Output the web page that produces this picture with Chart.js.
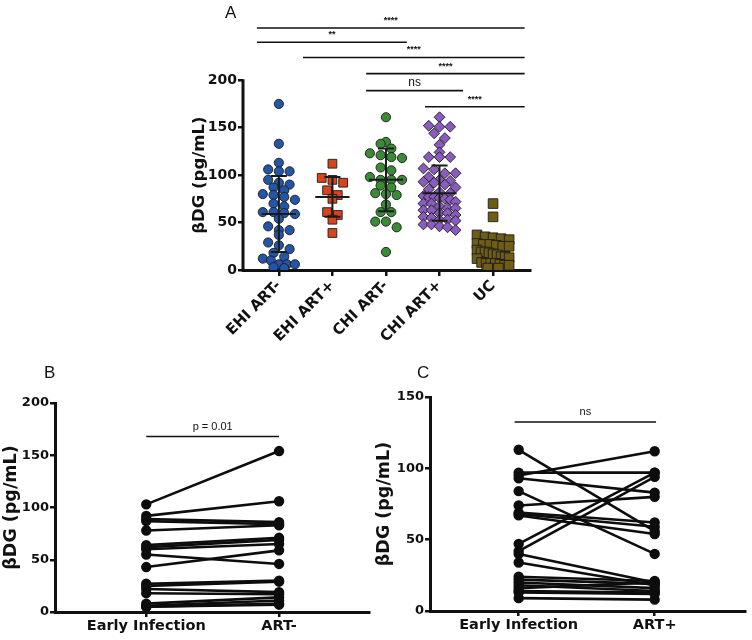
<!DOCTYPE html>
<html>
<head>
<meta charset="utf-8">
<script src="https://cdn.jsdelivr.net/npm/chart.js@4.4.1/dist/chart.umd.min.js"></script>
<style>
  body { margin: 0; background: #fff; }
  #wrap { position: relative; width: 752px; height: 640px; }
  canvas { position: absolute; }
  .lbl { position: absolute; font-family: "Liberation Sans", Arial, sans-serif; font-size: 17px; line-height: 17px; color: #111; }
</style>
</head>
<body>
<div id="wrap">
  <canvas id="cA" width="752" height="372" style="left:0;top:0"></canvas>
  <canvas id="cB" width="376" height="260" style="left:0;top:380px"></canvas>
  <canvas id="cC" width="382" height="260" style="left:370px;top:380px"></canvas>
  <div class="lbl" style="left:225px;top:4px">A</div>
  <div class="lbl" style="left:44px;top:364px">B</div>
  <div class="lbl" style="left:417px;top:364px">C</div>
</div>
<script>
// panel A
const groupsA = ['EHI ART-', 'EHI ART+', 'CHI ART-', 'CHI ART+', 'UC']
const ehiArtNeg = [175, 133, 113, 106, 104, 104, 95, 92, 90, 87, 84, 80, 79, 77, 74, 70, 67, 61, 61, 60, 59, 54, 46, 42, 42, 37, 29, 26, 22, 18, 14, 12, 10, 6, 6, 6, 3, 2]
const ehiArtPos = [112, 97, 95, 92, 84, 79, 75, 61, 58, 53, 39]
const chiArtNeg = [161, 135, 133, 128, 123, 121, 119, 118, 108, 105, 98, 95, 95, 95, 89, 87, 81, 80, 79, 69, 61, 61, 51, 51, 45, 19]
const chiArtPos = [161, 152, 151, 151, 144, 139, 132, 124, 119, 119, 119, 107, 106, 102, 102, 98, 95, 94, 93, 92, 90, 87, 85, 82, 81, 78, 77, 77, 76, 75, 74, 72, 70, 70, 67, 65, 65, 63, 63, 60, 60, 58, 56, 55, 53, 53, 52, 48, 48, 46, 45, 42]
const uc = [70, 56, 37, 35, 34, 33, 32, 28, 27, 27, 26, 25, 25, 21, 19, 19, 18, 17, 16, 14, 14, 13, 12, 8, 7, 7, 7, 6, 5, 5, 2, 2]
const meanA = [59, 77, 95, 81, 20]
const sdA = [40, 21, 33, 29, 14]
const yTicksA = [0, 50, 100, 150, 200]

// significance bars of panel A
const sigFrom = [0.59, 0.59, 1.45, 2.63, 2.63, 3.73]
const sigTo = [5.59, 3.39, 5.59, 5.59, 4.44, 5.59]
const sigY = [255, 240, 224, 207, 189, 172]
const sigText = ['****', '**', '****', '****', 'ns', '****']

// panel B
const labelsB = ['Early Infection', 'ART-']
const bEarly = [103, 92, 89, 87, 78, 64, 62, 60, 55, 43, 27, 25, 22, 18, 8, 6, 5, 5]
const bArt = [154, 106, 86, 84, 83, 71, 69, 65, 46, 59, 30, 29, 19, 17, 14, 11, 8, 7]
const pB = 'p = 0.01'

// panel C
const labelsC = ['Early Infection', 'ART+']
const cEarly = [113, 97, 95, 93, 84, 74, 69, 68, 67, 47, 42, 40, 34, 24, 22, 20, 18, 16, 14, 13, 9]
const cArt = [56, 97, 112, 83, 40, 80, 62, 59, 54, 97, 94, 20, 18, 21, 19, 16, 14, 20, 13, 12, 8]
const pC = 'ns'

const ink = '#111'
const tituloY = 'βDG (pg/mL)'
const boldFont = (s) => ({ family: 'DejaVu Sans', weight: 'bold', size: s })

// spread the points of one group in rows, like a column scatter
function swarm(vals, center, bin, step, maxHalf) {
    const rows = new Map()
    vals.forEach((v, i) => {
        const k = Math.round(v / bin)
        if (!rows.has(k)) rows.set(k, [])
        rows.get(k).push(i)
    })
    const xs = []
    rows.forEach(idx => {
        const n = idx.length
        const st = n > 1 ? Math.min(step, 2 * maxHalf / (n - 1)) : 0
        idx.forEach((i, j) => { xs[i] = center + (j - (n - 1) / 2) * st })
    })
    return vals.map((v, i) => ({ x: xs[i], y: v }))
}

function errBar(i) {
    const c = i + 1, m = meanA[i], s = sdA[i]
    return [
        { x: c - 0.32, y: m }, { x: c + 0.32, y: m }, { x: c, y: null },
        { x: c, y: m - s }, { x: c, y: m + s }, { x: c, y: null },
        { x: c - 0.15, y: m + s }, { x: c + 0.15, y: m + s }, { x: c, y: null },
        { x: c - 0.15, y: m - s }, { x: c + 0.15, y: m - s }
    ]
}

const styleA = [
    { data: ehiArtNeg, bg: '#2456a8', style: 'circle', r: 4.6, bin: 8.5 },
    { data: ehiArtPos, bg: '#d8431e', style: 'rect', r: 6.2, bin: 12 },
    { data: chiArtNeg, bg: '#3a8a36', style: 'circle', r: 4.6, bin: 10 },
    { data: chiArtPos, bg: '#8a5cc0', style: 'rectRot', r: 5.4, bin: 7.5 },
    { data: uc, bg: '#6f5d16', style: 'rect', r: 6.8, bin: 8.5 }
]

function criarA() {
    const ds = []
    groupsA.forEach((g, i) => {
        ds.push({
            data: errBar(i), showLine: true, spanGaps: false, pointRadius: 0,
            borderColor: '#1a1a1a', borderWidth: 2, order: i === 4 ? 10 : 0
        })
    })
    sigY.forEach((y, i) => {
        ds.push({
            data: [{ x: sigFrom[i], y: y }, { x: sigTo[i], y: y }], showLine: true,
            pointRadius: 0, borderColor: ink, borderWidth: 1.6, order: 1
        })
    })
    styleA.forEach((s, i) => {
        ds.push({
            data: swarm(s.data, i + 1, s.bin, 0.2, 0.3),
            pointStyle: s.style, pointRadius: s.r, backgroundColor: s.bg,
            borderColor: '#1c1c1c', borderWidth: 0.9, order: 5
        })
    })

    const eixoY = {
        id: 'eixoY',
        afterDatasetsDraw(chart) {
            const { ctx, chartArea, scales } = chart
            ctx.save()
            ctx.strokeStyle = ink
            ctx.lineWidth = 3
            ctx.beginPath()
            ctx.moveTo(chartArea.left, scales.y.getPixelForValue(0) + 1.5)
            ctx.lineTo(chartArea.left, scales.y.getPixelForValue(200) - 1)
            ctx.stroke()
            ctx.fillStyle = ink
            ctx.textAlign = 'center'
            ctx.textBaseline = 'bottom'
            sigText.forEach((t, i) => {
                const x = (scales.x.getPixelForValue(sigFrom[i]) + scales.x.getPixelForValue(sigTo[i])) / 2
                const y = scales.y.getPixelForValue(sigY[i])
                ctx.font = t === 'ns' ? '12px "Liberation Sans"' : 'bold 9px "Liberation Sans"'
                ctx.fillText(t, x, t === 'ns' ? y - 2 : y - 3)
            })
            // axis title centred on the 0-200 part of the axis
            ctx.translate(scales.y.left + 9, scales.y.getPixelForValue(100))
            ctx.rotate(-Math.PI / 2)
            ctx.textBaseline = 'middle'
            ctx.font = 'bold 16.5px "DejaVu Sans"'
            ctx.fillText(tituloY, 0, 0)
            ctx.restore()
        }
    }

    new Chart(document.getElementById('cA'), {
        type: 'scatter',
        data: { datasets: ds },
        options: {
            responsive: false,
            animation: false,
            layout: { padding: { left: 191, right: 222, top: 10, bottom: 0 } },
            plugins: { legend: { display: false }, tooltip: { enabled: false } },
            scales: {
                x: {
                    type: 'linear', min: 0.33, max: 5.69,
                    afterBuildTicks: s => { s.ticks = groupsA.map((g, i) => ({ value: i + 1 })) },
                    afterFit: s => { s.height = 102 },
                    ticks: { callback: v => groupsA[v - 1], minRotation: 45, maxRotation: 45, autoSkip: false, font: boldFont(15), color: ink, padding: 1 },
                    grid: { drawOnChartArea: false, tickLength: 6, lineWidth: 2.5, color: ink },
                    border: { display: true, width: 3, color: ink }
                },
                y: {
                    min: 0, max: 274,
                    afterBuildTicks: s => { s.ticks = yTicksA.map(v => ({ value: v })) },
                    afterFit: s => { s.width = 52 },
                    ticks: { font: boldFont(14), color: ink, padding: 1 },
                    grid: { drawOnChartArea: false, tickLength: 5, lineWidth: 2.5, color: ink },
                    border: { display: false }
                }
            }
        },
        plugins: [eixoY]
    })
}

function criarPar(id, labels, early, art, yMax, yStep, pad, yW, xH, sigLine, sigTxt) {
    const ds = early.map((e, i) => ({
        data: [{ x: 1, y: e }, { x: 2, y: art[i] }],
        showLine: true, borderColor: '#0d0d0d', borderWidth: 2.6,
        pointRadius: 3.9, backgroundColor: '#0d0d0d'
    }))
    ds.push({
        data: [{ x: sigLine[0], y: sigLine[2] }, { x: sigLine[1], y: sigLine[2] }],
        showLine: true, pointRadius: 0, borderColor: ink, borderWidth: 1.6
    })
    const texto = {
        id: 'texto' + id,
        afterDatasetsDraw(chart) {
            const { ctx, scales } = chart
            ctx.save()
            ctx.fillStyle = ink
            ctx.font = '11px "Liberation Sans"'
            ctx.textAlign = 'center'
            ctx.textBaseline = 'bottom'
            const x = (scales.x.getPixelForValue(sigLine[0]) + scales.x.getPixelForValue(sigLine[1])) / 2
            ctx.fillText(sigTxt, x, scales.y.getPixelForValue(sigLine[2]) - 4)
            ctx.restore()
        }
    }
    new Chart(document.getElementById(id), {
        type: 'scatter',
        data: { datasets: ds },
        options: {
            responsive: false,
            animation: false,
            layout: { padding: pad },
            plugins: { legend: { display: false }, tooltip: { enabled: false } },
            scales: {
                x: {
                    type: 'linear', min: sigLine[3], max: sigLine[4],
                    afterBuildTicks: s => { s.ticks = labels.map((g, i) => ({ value: i + 1 })) },
                    afterFit: s => { s.height = xH },
                    ticks: { callback: v => labels[v - 1], maxRotation: 0, autoSkip: false, font: boldFont(14.5), color: ink, padding: 1 },
                    grid: { drawOnChartArea: false, tickLength: 5, lineWidth: 2.5, color: ink },
                    border: { display: true, width: 3, color: ink }
                },
                y: {
                    min: 0, max: yMax,
                    ticks: { stepSize: yStep, font: boldFont(13), color: ink, padding: 1 },
                    afterFit: s => { s.width = yW },
                    grid: { drawOnChartArea: false, tickLength: 5, lineWidth: 2.5, color: ink },
                    border: { display: true, width: 3, color: ink },
                    title: { display: true, text: tituloY, font: boldFont(17.5), color: ink, padding: 0 }
                }
            }
        },
        plugins: [texto]
    })
}

criarA()
criarPar('cB', labelsB, bEarly, bArt, 200, 50, { left: 1, right: 4, top: 23, bottom: 0 }, 54, 28, [1, 2, 168, 0.313, 2.68], pB)
criarPar('cC', labelsC, cEarly, cArt, 150, 50, { left: 4, right: 2, top: 17, bottom: 0 }, 56, 29, [0.97, 2.01, 132.5, 0.348, 2.667], pC)
</script>
</body>
</html>
